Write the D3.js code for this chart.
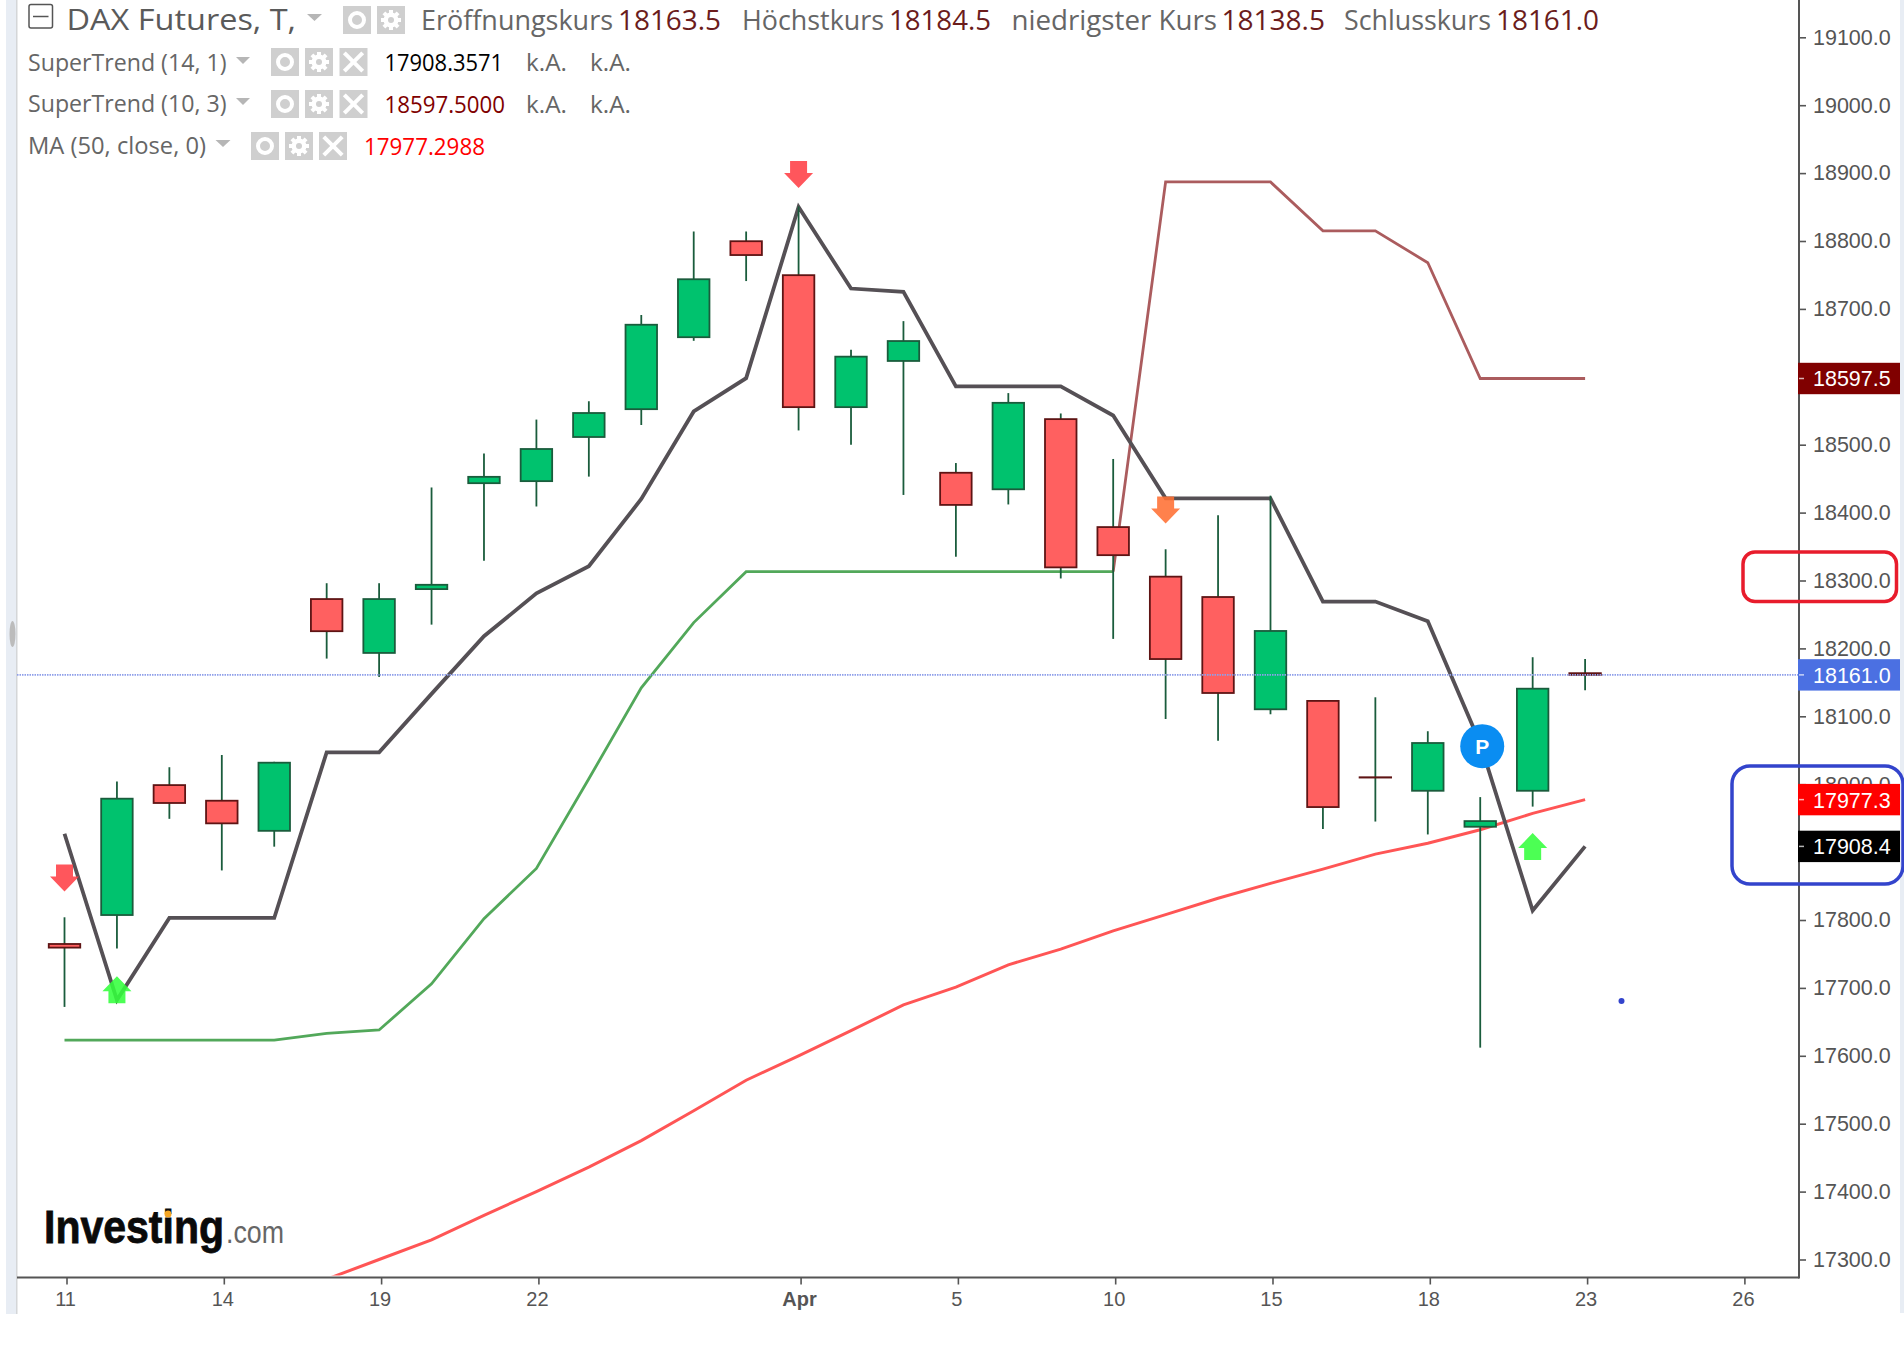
<!DOCTYPE html>
<html lang="de">
<head>
<meta charset="utf-8">
<title>DAX Futures</title>
<script src="https://cdn.jsdelivr.net/npm/d3@7"></script>
<style>
    html, body { margin: 0; padding: 0; background: #fff; }
    svg { display: block; }
</style>
</head>
<body>
<script>

// -- Data -- //

const opens  = [17766, 17806, 18000, 17977, 17930, 18274, 18192, 18286, 18442, 18445, 18510, 18551, 18657, 18801, 18751, 18554, 18622, 18460, 18433, 18539, 18380, 18307, 18277, 18109, 18124, 18010.2, 17989, 17936, 17989, 18163.5];
const highs  = [17804, 18004, 18025, 18043, 18033, 18296, 18296, 18437, 18487, 18537, 18564, 18691, 18814, 18814, 18851, 18640, 18682, 18473, 18576, 18546, 18479, 18346, 18396, 18425, 18124, 18128, 18078, 17981, 18187, 18184.5];
const lows   = [17672, 17758, 17949, 17873, 17908, 18185, 18158, 18235, 18329, 18409, 18453, 18529, 18653, 18741, 18521, 18500, 18426, 18335, 18412, 18303, 18214, 18096, 18064, 18103, 17934, 17945, 17926, 17612, 17967, 18138.5];
const closes = [17758, 17980, 17971, 17941, 18033, 18224, 18274, 18295, 18454, 18495, 18548, 18678, 18745, 18778, 18554, 18631, 18654, 18410, 18563, 18318, 18336, 18183, 18133, 18227, 17965, 18009.8, 18062, 17947, 18142, 18161];

const superTrendFast = [17927, 17682, 17803, 17803, 17803, 18047, 18047, 18133, 18218, 18281, 18321, 18420, 18549, 18598, 18850, 18730, 18725, 18586, 18586, 18586, 18543, 18421, 18421, 18421, 18269, 18269, 18240, 18060, 17814, 17908.4];
const superTrendSlowUp = [17623, 17623, 17623, 17623, 17623, 17633, 17638, 17706, 17802, 17876, 18008, 18142, 18238, 18313, 18313, 18313, 18313, 18313, 18313, 18313, 18313];
const superTrendSlowDown = [18313, 18887, 18887, 18887, 18815, 18815, 18768, 18597.5, 18597.5, 18597.5];
const slowDownStart = 20;
const ma50 = [17271, 17300, 17329, 17365, 17400, 17436, 17475, 17519, 17564, 17600, 17637, 17675, 17701, 17734, 17757, 17784, 17808, 17832, 17854, 17875, 17897, 17913, 17933, 17957, 17977.3];
const maStart = 5;

const xTickIndex = [0, 3, 6, 9, 14, 17, 20, 23, 26, 29, 32];
const xTickLabels = ["11", "14", "19", "22", "Apr", "5", "10", "15", "18", "23", "26"];
const yTicks = [17300, 17400, 17500, 17600, 17700, 17800, 17900, 18000, 18100, 18200, 18300, 18400, 18500, 18600, 18700, 18800, 18900, 19000, 19100];

const arrowIndex = [0, 1, 14, 21, 28];
const arrowTip = [17842, 17717, 18878, 18384, 17928];
const arrowKind = ["sell", "buy", "sell", "exit", "buy"];

const lastClose = 18161.0;
const lastMa = 17977.3;
const lastFast = 17908.4;
const lastSlow = 18597.5;

// -- Setting -- //

const canvasWidth = 1904;
const canvasHeight = 1348;
const plotLeft = 17;
const plotRight = 1799;
const plotBottom = 1277.5;
const sansFont = "'Liberation Sans', Arial, sans-serif";
const legendFont = "'Open Sans', 'Noto Sans', sans-serif";

const canvas = d3.select("body")
    .append("svg")
    .attr("width", canvasWidth)
    .attr("height", canvasHeight);

const x = d3.scaleLinear().domain([0, 32]).range([64.5, 1742.4]);
const y = d3.scaleLinear().domain([17300, 19100]).range([1259.5, 37.3]);

canvas.append("defs").append("clipPath").attr("id", "plotClip")
    .append("rect")
    .attr("x", plotLeft).attr("y", 0)
    .attr("width", plotRight - plotLeft).attr("height", plotBottom - 2);

// side strips of the screenshot
canvas.append("rect").attr("x", 6).attr("y", 0).attr("width", 11).attr("height", 1314).attr("fill", "#e8edf4");
canvas.append("rect").attr("x", 16).attr("y", 0).attr("width", 1.5).attr("height", 1314).attr("fill", "#d4d6d8");
canvas.append("ellipse").attr("cx", 12.5).attr("cy", 634).attr("rx", 3).attr("ry", 13).attr("fill", "#bcbcbc");
canvas.append("rect").attr("x", 1900).attr("y", 0).attr("width", 4).attr("height", 1313).attr("fill", "#e8edf4");

// -- Lines -- //

const plot = canvas.append("g").attr("clip-path", "url(#plotClip)");

let drawLine = function(values, start, color, width) {
    const line = d3.line()
        .x((d, i) => x(start + i))
        .y(d => y(d));
    plot.append("path")
        .attr("d", line(values))
        .attr("fill", "none")
        .attr("stroke", color)
        .attr("stroke-width", width);
};

drawLine(ma50, maStart, "#ff5555", 3);
drawLine(superTrendSlowUp, 0, "#52a85a", 2.8);
drawLine(superTrendSlowDown, slowDownStart, "#ab5c5e", 2.8);
drawLine(superTrendFast, 0, "#555055", 3.8);

// -- Candles -- //

const candles = opens.map((o, i) => ({ i: i, open: o, high: highs[i], low: lows[i], close: closes[i] }));
const bodyWidth = 31.5;

plot.append("g").selectAll("line")
    .data(candles)
    .join("line")
    .attr("x1", d => x(d.i)).attr("x2", d => x(d.i))
    .attr("y1", d => y(d.high)).attr("y2", d => y(d.low))
    .attr("stroke", "#1a5c3c")
    .attr("stroke-width", 1.8);

// thin bodies keep their full height so the border does not swallow them
let bodyInset = function(d) {
    return Math.abs(y(d.open) - y(d.close)) < 3 ? 0 : 0.9;
};

plot.append("g").selectAll("rect")
    .data(candles)
    .join("rect")
    .attr("x", d => x(d.i) - bodyWidth / 2)
    .attr("width", bodyWidth)
    .attr("y", d => y(Math.max(d.open, d.close)) + bodyInset(d))
    .attr("height", d => Math.abs(y(d.open) - y(d.close)) - 2 * bodyInset(d))
    .attr("fill", d => d.close > d.open ? "#00c26e" : "#ff6060")
    .attr("stroke", d => d.close > d.open ? "#1a5c3c" : "#5e1414")
    .attr("stroke-width", 1.8);

// current price line
canvas.append("line")
    .attr("x1", plotLeft).attr("x2", plotRight)
    .attr("y1", y(lastClose)).attr("y2", y(lastClose))
    .attr("stroke", "#8e9fea")
    .attr("stroke-width", 1.6)
    .attr("stroke-dasharray", "1.5 1");

// -- Signals -- //

const arrowColor = { sell: "#ff3f46", buy: "#33ff3c", exit: "#ff7033" };

let arrowPath = function(dir) {
    const p = d3.path();
    p.moveTo(0, 0);
    p.lineTo(14.5, dir * 15);
    p.lineTo(8.5, dir * 15);
    p.lineTo(8.5, dir * 27);
    p.lineTo(-8.5, dir * 27);
    p.lineTo(-8.5, dir * 15);
    p.lineTo(-14.5, dir * 15);
    p.closePath();
    return p.toString();
};

canvas.append("g").selectAll("path")
    .data(arrowIndex)
    .join("path")
    .attr("transform", (d, i) => `translate(${x(d)},${y(arrowTip[i])})`)
    .attr("d", (d, i) => arrowPath(arrowKind[i] === "buy" ? 1 : -1))
    .attr("fill", (d, i) => arrowColor[arrowKind[i]])
    .attr("fill-opacity", 0.88);

const pivot = canvas.append("g").attr("transform", `translate(${x(27) + 2},${y(18056)})`);
pivot.append("circle").attr("r", 22).attr("fill", "#0a8df2");
pivot.append("text")
    .attr("text-anchor", "middle").attr("y", 7.5)
    .attr("font-family", sansFont).attr("font-weight", "bold").attr("font-size", 21)
    .attr("fill", "#fff")
    .text("P");

// -- Axes -- //

const yAxis = d3.axisRight(y)
    .tickValues(yTicks)
    .tickFormat(d => d.toFixed(1))
    .tickSize(7)
    .tickPadding(7);

const yAxisGroup = canvas.append("g")
    .attr("transform", `translate(${plotRight},0)`)
    .call(yAxis);

const xAxis = d3.axisBottom(x)
    .tickValues(xTickIndex)
    .tickFormat((d, i) => xTickLabels[i])
    .tickSize(7)
    .tickPadding(7);

const xAxisGroup = canvas.append("g")
    .attr("transform", `translate(2,${plotBottom})`)
    .call(xAxis);

[yAxisGroup, xAxisGroup].forEach(function(g) {
    g.select(".domain").remove();
    g.selectAll("line").attr("stroke", "#555").attr("stroke-width", 1.6);
    g.selectAll("text")
        .attr("font-family", sansFont)
        .attr("font-size", 21.5)
        .attr("fill", "#555");
});
xAxisGroup.selectAll("text")
    .attr("font-size", 20)
    .attr("dx", -1.5)
    .attr("font-weight", (d, i) => xTickLabels[i] === "Apr" ? "bold" : "normal");

canvas.append("line")
    .attr("x1", plotRight).attr("x2", plotRight)
    .attr("y1", 0).attr("y2", plotBottom + 1)
    .attr("stroke", "#555").attr("stroke-width", 2);
canvas.append("line")
    .attr("x1", plotLeft).attr("x2", plotRight)
    .attr("y1", plotBottom).attr("y2", plotBottom)
    .attr("stroke", "#555").attr("stroke-width", 2);

// price badges on the axis
let drawBadge = function(value, color) {
    const g = canvas.append("g").attr("transform", `translate(1798,${y(value)})`);
    g.append("rect").attr("y", -15.7).attr("width", 102).attr("height", 31.4).attr("fill", color);
    g.append("line").attr("x1", 1).attr("x2", 6).attr("stroke", "#fff").attr("stroke-opacity", 0.7).attr("stroke-width", 1.5);
    g.append("text")
        .attr("x", 15).attr("y", 8)
        .attr("font-family", sansFont).attr("font-size", 21.5)
        .attr("fill", "#fff")
        .text(value.toFixed(1));
};

drawBadge(lastSlow, "#800000");
drawBadge(lastClose, "#4b70e2");
drawBadge(lastMa, "#ff0000");
drawBadge(lastFast, "#000000");

// -- Legend -- //

let drawText = function(str, left, right, middle, size, color) {
    canvas.append("text")
        .attr("x", left)
        .attr("y", middle + size * 0.36)
        .attr("textLength", right - left)
        .attr("lengthAdjust", "spacingAndGlyphs")
        .attr("font-family", legendFont)
        .attr("font-size", size)
        .attr("fill", color)
        .text(str);
};

let drawTriangle = function(left, right, top) {
    const p = d3.path();
    p.moveTo(left, top);
    p.lineTo(right, top);
    p.lineTo((left + right) / 2, top + 7);
    p.closePath();
    canvas.append("path").attr("d", p.toString()).attr("fill", "#b6b6b6");
};

let drawIcon = function(kind, left, top) {
    const g = canvas.append("g").attr("transform", `translate(${left},${top})`);
    g.append("rect").attr("width", 28).attr("height", 28).attr("fill", "#cfcfcf");
    const c = g.append("g").attr("transform", "translate(14,14)");
    if (kind === "eye") {
        c.append("circle").attr("r", 7).attr("fill", "none").attr("stroke", "#fff").attr("stroke-width", 4);
    } else if (kind === "gear") {
        c.selectAll("line").data(d3.range(4)).join("line")
            .attr("x1", -10).attr("x2", 10)
            .attr("transform", d => `rotate(${d * 45})`)
            .attr("stroke", "#fff").attr("stroke-width", 4);
        c.append("circle").attr("r", 5.5).attr("fill", "none").attr("stroke", "#fff").attr("stroke-width", 4);
        c.append("circle").attr("r", 3).attr("fill", "#cfcfcf");
    } else {
        c.selectAll("line").data([45, -45]).join("line")
            .attr("x1", -13).attr("x2", 13)
            .attr("transform", d => `rotate(${d})`)
            .attr("stroke", "#fff").attr("stroke-width", 4);
    }
};

const labelColor = "#666";
const valueColor = "#6b1c1c";

// collapse box and title
canvas.append("rect").attr("x", 29).attr("y", 4.5).attr("width", 23.5).attr("height", 23.5).attr("rx", 2)
    .attr("fill", "none").attr("stroke", "#555").attr("stroke-width", 1.5);
canvas.append("line").attr("x1", 33).attr("x2", 48.5).attr("y1", 16.5).attr("y2", 16.5)
    .attr("stroke", "#555").attr("stroke-width", 1.5);
drawText("DAX Futures, T,", 66.5, 296, 19, 30, "#5a5a5a");
drawTriangle(307, 322, 14);
drawIcon("eye", 343, 6);
drawIcon("gear", 377, 6);

drawText("Eröffnungskurs", 421, 613, 20, 27, labelColor);
drawText(opens[29].toFixed(1), 618, 721, 20, 27, valueColor);
drawText("Höchstkurs", 742, 884, 20, 27, labelColor);
drawText(highs[29].toFixed(1), 889, 991, 20, 27, valueColor);
drawText("niedrigster Kurs", 1011.5, 1217, 20, 27, labelColor);
drawText(lows[29].toFixed(1), 1221.5, 1325, 20, 27, valueColor);
drawText("Schlusskurs", 1344, 1491, 20, 27, labelColor);
drawText(closes[29].toFixed(1), 1496, 1599, 20, 27, valueColor);

// indicator rows
drawText("SuperTrend (14, 1)", 28, 226.5, 62.5, 24, labelColor);
drawTriangle(236, 250, 57);
drawIcon("eye", 271, 48);
drawIcon("gear", 305, 48);
drawIcon("close", 339.5, 48);
drawText("17908.3571", 384.5, 503, 63, 23, "#000");
drawText("k.A.", 526, 567, 63, 23, labelColor);
drawText("k.A.", 590, 631, 63, 23, labelColor);

drawText("SuperTrend (10, 3)", 28, 226.5, 103.5, 24, labelColor);
drawTriangle(236, 250, 98);
drawIcon("eye", 271, 90);
drawIcon("gear", 305, 90);
drawIcon("close", 339.5, 90);
drawText("18597.5000", 384.5, 505, 104.5, 23, "#800000");
drawText("k.A.", 526, 567, 104.5, 23, labelColor);
drawText("k.A.", 590, 631, 104.5, 23, labelColor);

drawText("MA (50, close, 0)", 28, 206, 145.5, 24, labelColor);
drawTriangle(215.5, 230.5, 140);
drawIcon("eye", 251, 132);
drawIcon("gear", 285, 132);
drawIcon("close", 319, 132);
drawText("17977.2988", 364, 485, 146.5, 23, "#ff0000");

// -- Logo -- //

canvas.append("text")
    .attr("x", 44).attr("y", 1243)
    .attr("textLength", 180).attr("lengthAdjust", "spacingAndGlyphs")
    .attr("font-family", sansFont).attr("font-weight", "bold").attr("font-size", 46)
    .attr("fill", "#0a0a0a")
    .attr("stroke", "#0a0a0a").attr("stroke-width", 0.8)
    .text("Investing");
canvas.append("text")
    .attr("x", 226).attr("y", 1243)
    .attr("textLength", 58).attr("lengthAdjust", "spacingAndGlyphs")
    .attr("font-family", sansFont).attr("font-size", 31)
    .attr("fill", "#666")
    .text(".com");
canvas.append("circle").attr("cx", 168).attr("cy", 1214).attr("r", 3.5).attr("fill", "#f5a623");

// -- Hand drawn marks -- //

canvas.append("rect")
    .attr("x", 1743).attr("y", 552).attr("width", 153.5).attr("height", 49.5).attr("rx", 12)
    .attr("fill", "none").attr("stroke", "#e81c2c").attr("stroke-width", 3.5);
canvas.append("rect")
    .attr("x", 1732).attr("y", 766).attr("width", 171).attr("height", 118).attr("rx", 18)
    .attr("fill", "none").attr("stroke", "#3344cc").attr("stroke-width", 3.5);
canvas.append("circle").attr("cx", 1621.5).attr("cy", 1001).attr("r", 3).attr("fill", "#3344cc");

</script>
</body>
</html>
